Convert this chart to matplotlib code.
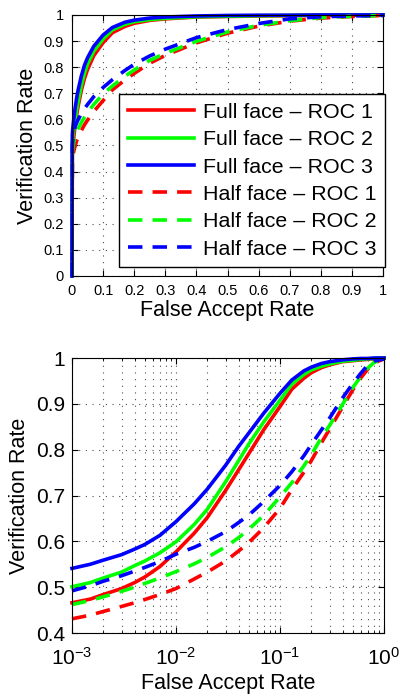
import matplotlib
matplotlib.use('Agg')
import matplotlib.pyplot as plt
from matplotlib.ticker import FixedLocator, FuncFormatter, LogLocator

# Fonte parecida com Helvetica/Arial do MATLAB
plt.rcParams['font.family'] = ['Liberation Sans', 'DejaVu Sans']
plt.rcParams['mathtext.fontset'] = 'custom'
plt.rcParams['mathtext.rm'] = 'Liberation Sans'
plt.rcParams['mathtext.default'] = 'regular'

# --- Dados ---
far = [0, 0.001, 0.0015, 0.002, 0.003, 0.004, 0.005, 0.007, 0.01, 0.015, 0.02,
       0.03, 0.04, 0.05, 0.07, 0.1, 0.13, 0.17, 0.2, 0.25, 0.3, 0.4, 0.5,
       0.6, 0.7, 0.8, 0.9, 1.0]

full_roc1 = [0, 0.466, 0.474, 0.484, 0.497, 0.510, 0.522, 0.545, 0.577, 0.618, 0.652,
             0.711, 0.756, 0.791, 0.844, 0.894, 0.932, 0.956, 0.968, 0.979, 0.985,
             0.992, 0.994, 0.996, 0.997, 0.998, 0.999, 1.0]
full_roc2 = [0, 0.501, 0.510, 0.520, 0.533, 0.547, 0.557, 0.575, 0.599, 0.637, 0.670,
             0.730, 0.776, 0.812, 0.861, 0.908, 0.943, 0.964, 0.974, 0.982, 0.987,
             0.993, 0.995, 0.997, 0.998, 0.999, 1.0, 1.0]
full_roc3 = [0, 0.541, 0.550, 0.559, 0.571, 0.583, 0.593, 0.613, 0.643, 0.682, 0.714,
             0.766, 0.807, 0.836, 0.880, 0.923, 0.952, 0.972, 0.980, 0.988, 0.992,
             0.996, 0.998, 0.999, 0.999, 1.0, 1.0, 1.0]
half_roc1 = [0, 0.431, 0.439, 0.447, 0.458, 0.466, 0.473, 0.484, 0.497, 0.518, 0.533,
             0.557, 0.579, 0.597, 0.630, 0.672, 0.713, 0.751, 0.776, 0.815, 0.845,
             0.893, 0.930, 0.957, 0.976, 0.988, 0.994, 0.998]
half_roc2 = [0, 0.462, 0.471, 0.479, 0.491, 0.500, 0.508, 0.520, 0.534, 0.551, 0.565,
             0.588, 0.608, 0.626, 0.657, 0.697, 0.728, 0.765, 0.789, 0.826, 0.853,
             0.899, 0.935, 0.960, 0.978, 0.990, 0.995, 0.998]
half_roc3 = [0, 0.492, 0.503, 0.513, 0.525, 0.535, 0.543, 0.556, 0.572, 0.587, 0.600,
             0.621, 0.641, 0.657, 0.687, 0.722, 0.752, 0.787, 0.811, 0.843, 0.869,
             0.913, 0.944, 0.967, 0.985, 0.993, 0.996, 0.998]

labels = ['Full face \u2013 ROC 1', 'Full face \u2013 ROC 2', 'Full face \u2013 ROC 3',
          'Half face \u2013 ROC 1', 'Half face \u2013 ROC 2', 'Half face \u2013 ROC 3']
series = [full_roc1, full_roc2, full_roc3, half_roc1, half_roc2, half_roc3]
colors = ['#ff0000', '#00ff00', '#0000ff', '#ff0000', '#00ff00', '#0000ff']
styles = ['-', '-', '-', (0, (4, 2.8)), (0, (4, 2.8)), (0, (4, 2.8))]

LW = 2.6
grid_style = dict(linestyle=(0, (1, 5)), color='0.3', linewidth=0.8)


def fmt(v, pos):
    return f'{v:g}'


fig = plt.figure(figsize=(4.0, 6.98), dpi=100)

# --- Gráfico de cima (escala linear) ---
ax1 = fig.add_axes([0.18, 0.6046, 0.7775, 0.374])
for y, c, ls, lab in zip(series, colors, styles, labels):
    ax1.plot(far, y, color=c, linestyle=ls, linewidth=LW, label=lab, clip_on=False)
ax1.set_xlim(0, 1)
ax1.set_ylim(0, 1)
ticks = [i / 10 for i in range(11)]
ax1.xaxis.set_major_locator(FixedLocator(ticks))
ax1.yaxis.set_major_locator(FixedLocator(ticks))
ax1.xaxis.set_major_formatter(FuncFormatter(fmt))
ax1.yaxis.set_major_formatter(FuncFormatter(fmt))
ax1.tick_params(direction='in', top=True, right=True, length=4, width=0.8,
                labelsize=10.5, pad=6)
ax1.grid(True, which='major', **grid_style)
ax1.set_xlabel('False Accept Rate', fontsize=15.5, labelpad=1)
ax1.set_ylabel('Verification Rate', fontsize=15.5, labelpad=4)
for s in ax1.spines.values():
    s.set_linewidth(0.8)
leg = ax1.legend(loc='lower right', bbox_to_anchor=(1.006, 0.034), borderaxespad=0,
                 fontsize=15.4, handlelength=3.1, handletextpad=0.4,
                 labelspacing=0.39, borderpad=0.4, fancybox=False,
                 framealpha=1, edgecolor='black')
leg.get_frame().set_linewidth(1.0)

# --- Gráfico de baixo (escala log) ---
ax2 = fig.add_axes([0.18, 0.0931, 0.78, 0.394])
for y, c, ls in zip(series, colors, styles):
    ax2.plot(far[1:], y[1:], color=c, linestyle=ls, linewidth=LW, clip_on=False)
ax2.set_xscale('log')
ax2.set_xlim(1e-3, 1)
ax2.set_ylim(0.4, 1)
ax2.xaxis.set_major_locator(LogLocator(base=10, numticks=10))
ax2.xaxis.set_minor_locator(LogLocator(base=10, subs=range(2, 10), numticks=10))
ax2.yaxis.set_major_locator(FixedLocator([0.4, 0.5, 0.6, 0.7, 0.8, 0.9, 1.0]))
ax2.yaxis.set_major_formatter(FuncFormatter(fmt))
ax2.tick_params(which='major', direction='in', top=True, right=True, length=4,
                width=0.8, labelsize=15, pad=5)
ax2.tick_params(axis='x', which='major', pad=10)
ax2.tick_params(which='minor', direction='in', top=True, right=True, length=2,
                width=0.6)
ax2.grid(True, which='major', axis='both', **grid_style)
ax2.grid(True, which='minor', axis='x', **grid_style)
ax2.set_xlabel('False Accept Rate', fontsize=15.5, labelpad=3)
ax2.set_ylabel('Verification Rate', fontsize=15.5, labelpad=4)
for s in ax2.spines.values():
    s.set_linewidth(0.8)

plt.savefig('out.png', dpi=100)
